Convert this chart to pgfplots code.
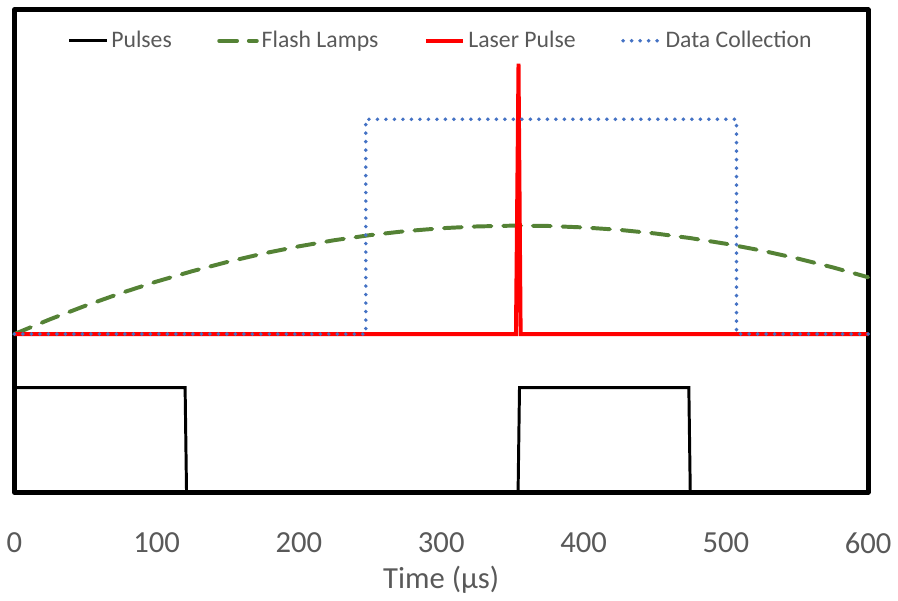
\documentclass[border=0pt]{standalone}
\usepackage{pgfplots}
\pgfplotsset{compat=1.18}
\usepackage{fontspec}
\setmainfont{Carlito}
\definecolor{txtgray}{HTML}{595959}
\definecolor{lampgreen}{HTML}{548235}
\definecolor{dcblue}{HTML}{4472C4}
\begin{document}
\begin{tikzpicture}
\begin{axis}[
  scale only axis,
  width=432pt, height=244pt,
  xmin=0, xmax=600, ymin=0, ymax=485,
  xtick={0,100,...,600},
  ytick=\empty,
  major tick length=0pt,
  /pgf/number format/assume math mode=true,
  xticklabel style={font=\fontsize{15.5}{18}\selectfont, text=txtgray, yshift=-17pt},
  xlabel={Time (µs)},
  xlabel style={font=\fontsize{15.5}{18}\selectfont, text=txtgray, yshift=0.5pt},
  axis line style={line width=2.5pt, line join=round},
  clip=false,
  legend columns=4,
  legend style={at={(0.5,0.936)}, anchor=center, draw=none, fill=none,
    font=\fontsize{12}{14}\selectfont, text=txtgray,
    nodes={inner xsep=1.5pt},
    /tikz/every even column/.append style={column sep=21.5pt}},
  legend cell align=left,
  legend image code/.code={\draw[#1] (0pt,0pt) -- (19pt,0pt);},
]
\addplot[black, line width=1.5pt, line join=miter] coordinates {
  (0,105) (120,105) (121,0) (354,0) (355,105) (474,105) (475,0) (600,0)
};
\addlegendentry{Pulses}
\addplot[lampgreen, line width=2pt, dash pattern=on 9pt off 6pt, line cap=round] coordinates {
  (0,159) (25,173.8) (50,187.5) (75,200.2) (100,211.8) (125,222.2) (150,231.6)
  (175,240.0) (200,247.2) (225,253.4) (250,258.5) (275,262.5) (300,265.4)
  (325,267.2) (350,268.0) (375,267.7) (400,266.2) (425,263.8) (450,260.2)
  (475,255.5) (500,249.8) (525,243.0) (550,235.1) (575,226.1) (600,216.1)
};
\addlegendentry{Flash Lamps}
\addplot[red, line width=2pt, line join=miter] coordinates {
  (0,159) (352.5,159) (354.3,431) (355.8,159) (600,159)
};
\addlegendentry{Laser Pulse}
\addplot[dcblue, line width=2pt, line cap=round, dash pattern=on 0pt off 4.3pt] coordinates {
  (0,159) (247,159) (247,375) (507.5,375) (507.5,159) (600,159)
};
\addlegendentry{Data Collection}
\end{axis}
\path ([yshift=5pt]current axis.north);
\end{tikzpicture}
\end{document}
